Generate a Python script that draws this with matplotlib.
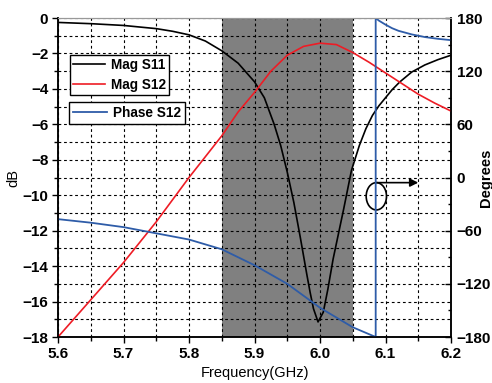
import numpy as np
import matplotlib.pyplot as plt
from matplotlib.patches import Ellipse
from matplotlib.ticker import MultipleLocator

plt.rcParams['font.family'] = ['Liberation Sans', 'DejaVu Sans']

# Mag S11 (dB)
f_s11 = [5.60, 5.65, 5.70, 5.75, 5.775, 5.80, 5.825, 5.85, 5.875, 5.90, 5.915, 5.93, 5.94,
         5.95, 5.96, 5.97, 5.98, 5.985, 5.99, 5.997, 6.005, 6.012, 6.02, 6.028, 6.036,
         6.048, 6.06, 6.07, 6.08, 6.09, 6.10, 6.11, 6.122, 6.14, 6.16, 6.18, 6.20]
s11 = [-0.25, -0.32, -0.42, -0.6, -0.75, -0.95, -1.3, -1.85, -2.55, -3.6, -4.5, -6.0, -7.2,
       -8.7, -10.4, -12.4, -14.5, -15.5, -16.4, -17.15, -16.6, -15.3, -13.6, -12.2, -10.8,
       -8.6, -7.2, -6.25, -5.5, -4.95, -4.5, -4.05, -3.6, -3.05, -2.65, -2.35, -2.1]

# Mag S12 (dB)
f_s12 = [5.60, 5.65, 5.70, 5.75, 5.80, 5.85, 5.875, 5.90, 5.925, 5.95, 5.975, 6.00,
         6.025, 6.05, 6.075, 6.10, 6.125, 6.15, 6.175, 6.20]
s12 = [-18.0, -15.9, -13.8, -11.5, -9.0, -6.65, -5.3, -4.2, -3.0, -2.1, -1.6, -1.42,
       -1.5, -1.95, -2.5, -3.1, -3.7, -4.3, -4.8, -5.25]

# Phase S12 (degrees), wraps at ~6.085 GHz
f_ph = [5.60, 5.65, 5.70, 5.75, 5.80, 5.85, 5.90, 5.95, 6.00, 6.05, 6.085,
        6.085, 6.09, 6.10, 6.11, 6.12, 6.14, 6.16, 6.18, 6.20]
ph = [-47, -51, -56, -63, -70, -81, -99, -120, -147, -169, -180,
      180, 177, 172.5, 168.5, 165.5, 161.5, 158.5, 156.5, 155]

band = (5.85, 6.05)

fig = plt.figure(figsize=(4.92, 3.83), dpi=100)
ax = fig.add_axes([0.1179, 0.1201, 0.7988, 0.8329])
ax2 = ax.twinx()

ax.axvspan(band[0], band[1], color='#808080', zorder=0, lw=0)
ax.plot(f_s11, s11, color='black', lw=1.2, label='Mag S11', zorder=3)
ax.plot(f_s12, s12, color='#ee1c25', lw=1.2, label='Mag S12', zorder=3)
ln, = ax2.plot(f_ph, ph, color='#2e5ca8', lw=1.3, label='Phase S12')

ax.set_xlim(5.6, 6.2)
ax.set_ylim(-18, 0)
ax2.set_ylim(-180, 180)

ax.xaxis.set_minor_locator(MultipleLocator(0.05))
ax.yaxis.set_major_locator(MultipleLocator(2))
ax.yaxis.set_minor_locator(MultipleLocator(1))
ax2.yaxis.set_major_locator(MultipleLocator(60))
ax2.yaxis.set_minor_locator(MultipleLocator(30))

xt = np.arange(5.6, 6.21, 0.1)
ax.set_xticks(xt)
ax.set_xticklabels(['%.1f' % v for v in xt])

ax.grid(which='both', color='black', linestyle=(0, (2.5, 2.5)), linewidth=0.8)
ax.set_axisbelow(False)

ax.tick_params(which='major', direction='out', length=4.5, width=1, labelsize=11, pad=2.5)
ax.tick_params(which='minor', direction='out', length=3, width=1)
ax2.tick_params(which='major', direction='in', length=4, width=1, labelsize=11, pad=4)
ax2.tick_params(which='minor', direction='in', length=2.5, width=1)
for lab in ax.get_xticklabels() + ax.get_yticklabels() + ax2.get_yticklabels():
    lab.set_fontweight('bold')

for a in (ax, ax2):
    a.spines['top'].set_color('#999999')
    a.spines['left'].set_linewidth(1.1)
    a.spines['right'].set_linewidth(1.1)
    a.spines['bottom'].set_linewidth(1.1)

ax.set_xlabel('Frequency(GHz)', fontsize=10.5)
ax.xaxis.set_label_coords(0.5, -0.09)
ax.set_ylabel('dB', fontsize=10.5)
ax.yaxis.set_label_coords(-0.097, 0.5)
ax2.set_ylabel('Degrees', fontsize=10.5, fontweight='bold')
ax2.yaxis.set_label_coords(1.071, 0.5)

leg1 = ax.legend(loc='upper left', bbox_to_anchor=(0.03, 0.885), fontsize=9.8,
                 frameon=True, fancybox=False, edgecolor='black', framealpha=1,
                 handlelength=2.3, handletextpad=0.45, labelspacing=0.4,
                 borderpad=0.25, borderaxespad=0)
leg1.get_frame().set_linewidth(1)
for t in leg1.get_texts():
    t.set_fontweight('bold')
leg2 = ax2.legend(handles=[ln], loc='upper left', bbox_to_anchor=(0.028, 0.737),
                  fontsize=9.8, frameon=True, fancybox=False, edgecolor='black',
                  framealpha=1, handlelength=2.5, handletextpad=0.45,
                  borderpad=0.3, borderaxespad=0)
leg2.get_frame().set_linewidth(1)
for t in leg2.get_texts():
    t.set_fontweight('bold')

# marker showing the phase curve belongs to the right axis
ax.add_patch(Ellipse((6.086, -10.06), 0.031, 1.54, fill=False, edgecolor='black',
                     lw=1.2, zorder=5))
ax.annotate('', xy=(6.150, -9.29), xytext=(6.086, -9.29),
            arrowprops=dict(arrowstyle='-|>', color='black', lw=1.2,
                            mutation_scale=12, shrinkA=0, shrinkB=0), zorder=5)

fig.savefig('out.png', dpi=100)
